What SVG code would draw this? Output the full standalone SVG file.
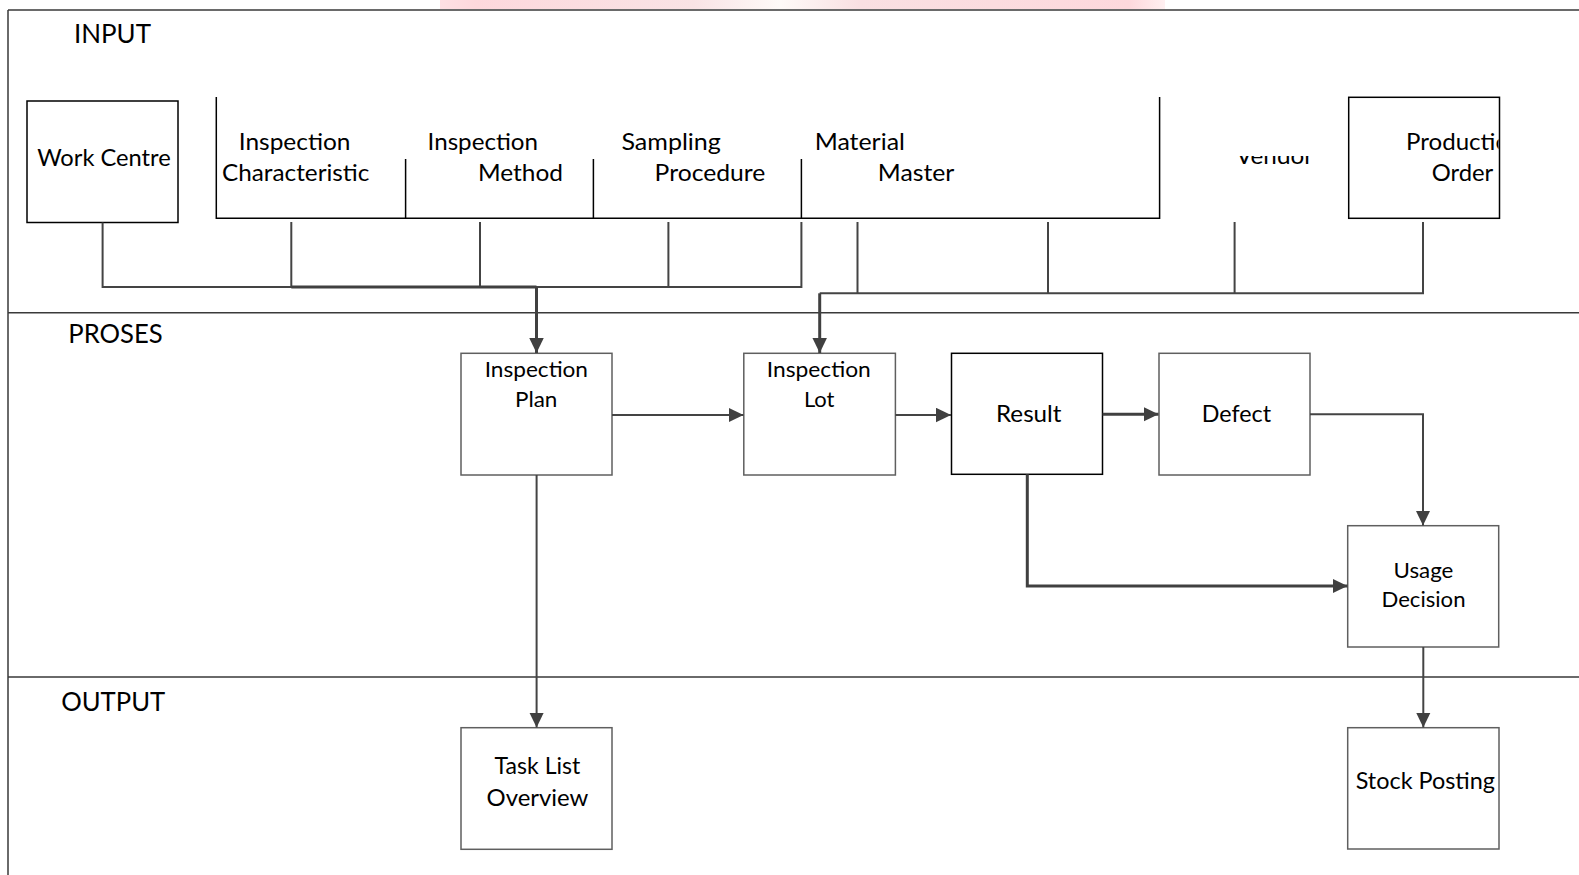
<svg xmlns="http://www.w3.org/2000/svg" width="1579" height="875" viewBox="0 0 1579 875">
<style>
.lane{stroke:#3a3a3a;stroke-width:1.5;fill:none}
.bx{fill:#fff;stroke:#5f5f5f;stroke-width:1.5}
.bk{fill:#fff;stroke:#000;stroke-width:1.5}
.ln{fill:none;stroke:#000;stroke-width:1.5}
.c{fill:none;stroke:#444;stroke-width:2}
.c3{fill:none;stroke:#404040;stroke-width:3}
text{font-family:Lato,"Open Sans","Liberation Sans",sans-serif;fill:#000}
.lb{font-size:26.5px}
.t1{font-size:23px}
.t2{font-size:21.5px}
</style>
<defs>
<marker id="ah" markerUnits="userSpaceOnUse" markerWidth="15" markerHeight="15" refX="15" refY="7.25" orient="auto">
<path d="M0,0 L15,7.25 L0,14.5 z" fill="#404040"/>
</marker>
<clipPath id="clipV"><rect x="1180" y="156" width="160" height="30"/></clipPath>
<clipPath id="clipP"><rect x="1349" y="97" width="149.5" height="121"/></clipPath>
<linearGradient id="pk" x1="0" x2="1" y1="0" y2="0">
<stop offset="0" stop-color="#fde0e3"/>
<stop offset="0.05" stop-color="#fdd8dc"/>
<stop offset="0.35" stop-color="#f9e3e5"/>
<stop offset="0.47" stop-color="#fefaf8"/>
<stop offset="0.58" stop-color="#f9e0e2"/>
<stop offset="0.95" stop-color="#fdd8dc"/>
<stop offset="1" stop-color="#fff0f1"/>
</linearGradient>
</defs>
<rect x="0" y="0" width="1579" height="875" fill="#fff"/>
<rect x="440" y="0" width="725" height="9" fill="url(#pk)"/>

<g id="lanes">
<path class="lane" d="M8,10 H1579 M8,10 V875 M8,312.7 H1579 M8,677 H1579" />
<text class="lb" x="74" y="43" textLength="77" lengthAdjust="spacingAndGlyphs">INPUT</text>
<text class="lb" x="68.3" y="343.3" textLength="94.4" lengthAdjust="spacingAndGlyphs">PROSES</text>
<text class="lb" x="61.2" y="710.7" textLength="104" lengthAdjust="spacingAndGlyphs">OUTPUT</text>
</g>

<g id="work-centre">
<rect class="bk" x="27" y="101" width="151" height="121.5"/>
<text class="t1" x="37.2" y="165.7" textLength="133.5" lengthAdjust="spacingAndGlyphs">Work Centre</text>
</g>

<g id="inspection-characteristic">
<path class="ln" d="M216.3,97 V218.3 H405.6"/>
<text class="t1" x="238.8" y="150" textLength="111.7" lengthAdjust="spacingAndGlyphs">Inspection</text>
<text class="t1" x="222" y="181" textLength="147.4" lengthAdjust="spacingAndGlyphs">Characteristic</text>
</g>

<g id="inspection-method">
<path class="ln" d="M405.6,159 V218.3 H593.4"/>
<text class="t1" x="427.6" y="150" textLength="110.4" lengthAdjust="spacingAndGlyphs">Inspection</text>
<text class="t1" x="478" y="181" textLength="85" lengthAdjust="spacingAndGlyphs">Method</text>
</g>

<g id="sampling-procedure">
<path class="ln" d="M593.4,159 V218.3 H801.4"/>
<text class="t1" x="621.4" y="150" textLength="99.5" lengthAdjust="spacingAndGlyphs">Sampling</text>
<text class="t1" x="654.6" y="181" textLength="110.7" lengthAdjust="spacingAndGlyphs">Procedure</text>
</g>

<g id="material-master">
<path class="ln" d="M801.4,159 V218.3 H1159.6 V97"/>
<text class="t1" x="814.7" y="150" textLength="90.2" lengthAdjust="spacingAndGlyphs">Material</text>
<text class="t1" x="877.8" y="181" textLength="76.5" lengthAdjust="spacingAndGlyphs">Master</text>
</g>

<g id="vendor">
<text class="t1" x="1236" y="164" textLength="77" lengthAdjust="spacingAndGlyphs" clip-path="url(#clipV)">Vendor</text>
</g>

<g id="production-order">
<rect class="bk" x="1348.7" y="97.3" width="150.8" height="121"/>
<text class="t1" x="1406" y="150" textLength="116.5" lengthAdjust="spacingAndGlyphs" clip-path="url(#clipP)">Production</text>
<text class="t1" x="1431.7" y="180.7" textLength="61.6" lengthAdjust="spacingAndGlyphs">Order</text>
</g>

<g id="inspection-plan">
<rect class="bx" x="461" y="353.3" width="151" height="121.7"/>
<text class="t2" x="484.7" y="377.3" textLength="103.3" lengthAdjust="spacingAndGlyphs">Inspection</text>
<text class="t2" x="515" y="407.3" textLength="42.4" lengthAdjust="spacingAndGlyphs">Plan</text>
</g>

<g id="inspection-lot">
<rect class="bx" x="743.8" y="353.3" width="151.6" height="121.7"/>
<text class="t2" x="766.8" y="377.3" textLength="104" lengthAdjust="spacingAndGlyphs">Inspection</text>
<text class="t2" x="803.9" y="407.3" textLength="30.6" lengthAdjust="spacingAndGlyphs">Lot</text>
</g>

<g id="result">
<rect class="bk" x="951.5" y="353.3" width="151" height="121"/>
<text class="t1" x="996" y="422.3" textLength="65.5" lengthAdjust="spacingAndGlyphs">Result</text>
</g>

<g id="defect">
<rect class="bx" x="1159" y="353.3" width="151" height="121.7"/>
<text class="t1" x="1201.8" y="422.3" textLength="69.3" lengthAdjust="spacingAndGlyphs">Defect</text>
</g>

<g id="usage-decision">
<rect class="bx" x="1347.7" y="525.7" width="151" height="121.3"/>
<text class="t2" x="1393.6" y="577.7" textLength="59.8" lengthAdjust="spacingAndGlyphs">Usage</text>
<text class="t2" x="1381.5" y="607.3" textLength="84" lengthAdjust="spacingAndGlyphs">Decision</text>
</g>

<g id="task-list-overview">
<rect class="bx" x="461" y="727.7" width="151" height="121.6"/>
<text class="t1" x="494.6" y="774" textLength="85.7" lengthAdjust="spacingAndGlyphs">Task List</text>
<text class="t1" x="486.6" y="805.7" textLength="101.8" lengthAdjust="spacingAndGlyphs">Overview</text>
</g>

<g id="stock-posting">
<rect class="bx" x="1347.7" y="727.7" width="151.3" height="121.3"/>
<text class="t1" x="1355.7" y="789" textLength="139.3" lengthAdjust="spacingAndGlyphs">Stock Posting</text>
</g>

<g id="connectors">
<path class="c" d="M102.6,222.5 V287 H801.4 V222"/>
<path class="c" d="M291.3,222 V287 M480,222 V287 M668.4,222 V287"/>
<path class="c3" d="M291.3,287 H536.5"/>
<path class="c3" d="M536.5,287 V353" marker-end="url(#ah)"/>
<path class="c" d="M857.5,222 V293.3 M1048,222 V293.3 M1234.6,222 V293.3 M1423,222 V293.3 H819.7"/>
<path class="c3" d="M819.7,293.3 V353" marker-end="url(#ah)"/>
<path class="c" d="M612,415 H743.5" marker-end="url(#ah)"/>
<path class="c" d="M895.4,415 H951" marker-end="url(#ah)"/>
<path class="c3" d="M1102.6,414.3 H1158.5" marker-end="url(#ah)"/>
<path class="c" d="M1310,414.3 H1423 V525.5" marker-end="url(#ah)"/>
<path class="c3" d="M1027.3,474.3 V586 H1347.5" marker-end="url(#ah)"/>
<path class="c" d="M536.6,475 V727.5" marker-end="url(#ah)"/>
<path class="c" d="M1423.3,647 V727.5" marker-end="url(#ah)"/>
</g>
</svg>
